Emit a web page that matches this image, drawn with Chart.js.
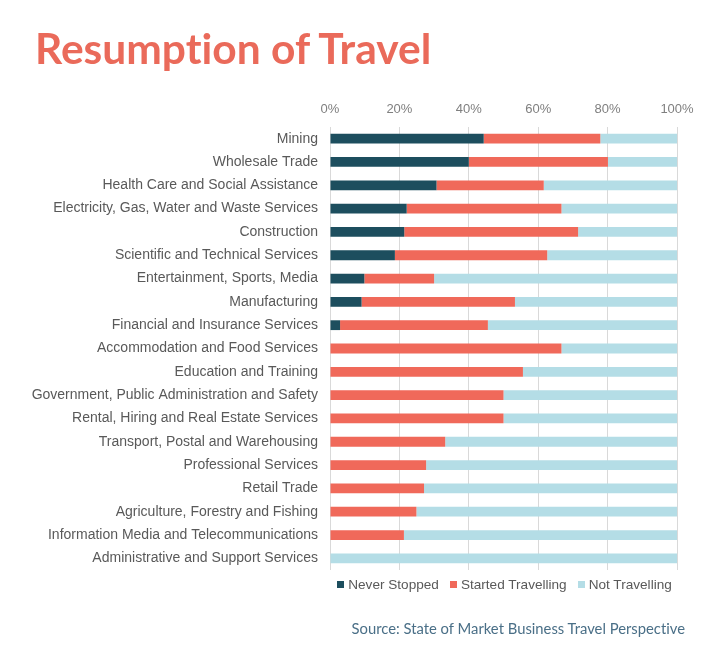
<!DOCTYPE html>
<html>
<head>
<meta charset="utf-8">
<script src="https://cdn.jsdelivr.net/npm/chart.js@4"></script>
<style>
    html, body { margin: 0; padding: 0; background: #fff; }
    #wrap { position: relative; width: 720px; height: 665px; overflow: hidden; }
    #title {
        position: absolute; left: 35px; top: 20px; margin: 0;
        font-family: Lato, sans-serif; font-weight: 700; font-size: 42.5px;
        font-variant-ligatures: none;
        color: #ea6a5a; line-height: 56px; white-space: nowrap;
    }
    #chartBox { position: absolute; left: 0; top: 0; width: 720px; height: 665px; }
    #legend {
        position: absolute; left: 331px; width: 347px; top: 577px;
        display: flex; justify-content: center; gap: 11px;
        font-family: "Liberation Sans", Arial, sans-serif; font-size: 13.6px; color: #595959;
    }
    #legend span.item { display: flex; align-items: center; white-space: nowrap; }
    #legend span.box { display: inline-block; width: 7px; height: 7px; margin-right: 4px; }
    #source {
        position: absolute; right: 35px; top: 619px;
        font-family: Lato, sans-serif; font-size: 14.8px; color: #4a6f87; white-space: nowrap;
        font-variant-ligatures: none;
    }
</style>
</head>
<body>
<div id="wrap">
    <div id="chartBox"><canvas id="travelChart"></canvas></div>
    <h1 id="title">Resumption of Travel</h1>
    <div id="legend"></div>
    <div id="source">Source: State of Market Business Travel Perspective</div>
</div>
<script>
const industries = [
    'Mining',
    'Wholesale Trade',
    'Health Care and Social Assistance',
    'Electricity, Gas, Water and Waste Services',
    'Construction',
    'Scientific and Technical Services',
    'Entertainment, Sports, Media',
    'Manufacturing',
    'Financial and Insurance Services',
    'Accommodation and Food Services',
    'Education and Training',
    'Government, Public Administration and Safety',
    'Rental, Hiring and Real Estate Services',
    'Transport, Postal and Warehousing',
    'Professional Services',
    'Retail Trade',
    'Agriculture, Forestry and Fishing',
    'Information Media and Telecommunications',
    'Administrative and Support Services'
];

// percent of respondents per industry
const neverStopped      = [44.3, 40.0, 30.7, 22.1, 21.4, 18.7, 9.9, 9.1, 2.9, 0, 0, 0, 0, 0, 0, 0, 0, 0, 0];
const startedTravelling = [33.6, 40.1, 30.9, 44.6, 50.1, 43.9, 20.1, 44.2, 42.6, 66.7, 55.6, 50.0, 50.0, 33.2, 27.7, 27.1, 24.9, 21.3, 0];
const notTravelling     = [22.1, 19.9, 38.4, 33.3, 28.5, 37.4, 70.0, 46.7, 54.5, 33.3, 44.4, 50.0, 50.0, 66.8, 72.3, 72.9, 75.1, 78.7, 100];

const xTicks = [0, 20, 40, 60, 80, 100];

const seriesColors = {
    never: '#1d4e5e',
    started: '#f0695a',
    not: '#b4dde6'
};

const ctx = document.getElementById('travelChart').getContext('2d');

const travelChart = new Chart(ctx, {
    type: 'bar',
    data: {
        labels: industries,
        datasets: [
            { label: 'Never Stopped', data: neverStopped, backgroundColor: seriesColors.never },
            { label: 'Started Travelling', data: startedTravelling, backgroundColor: seriesColors.started },
            { label: 'Not Travelling', data: notTravelling, backgroundColor: seriesColors.not }
        ]
    },
    options: {
        indexAxis: 'y',
        responsive: true,
        maintainAspectRatio: false,
        animation: false,
        layout: { padding: { left: 0, right: 43, top: 0, bottom: 95 } },
        datasets: {
            bar: { categoryPercentage: 1, barPercentage: 0.42, borderWidth: 0 }
        },
        plugins: {
            legend: { display: false }, // HTML legend below
            tooltip: { enabled: false }
        },
        scales: {
            x: {
                position: 'top',
                stacked: true,
                min: 0,
                max: 100,
                afterFit: function (scale) { scale.height = 127; },
                afterBuildTicks: function (scale) {
                    scale.ticks = xTicks.map(v => ({ value: v }));
                },
                grid: { color: '#d9d9d9', lineWidth: 1, drawTicks: false },
                border: { display: false },
                ticks: {
                    padding: 10,
                    color: '#7f7f7f',
                    font: { family: '"Liberation Sans", Arial, sans-serif', size: 13 },
                    callback: function (value) { return value + '%'; }
                }
            },
            y: {
                stacked: true,
                afterFit: function (scale) { scale.width = 330; },
                grid: { display: false, drawTicks: false },
                border: { display: false },
                ticks: {
                    padding: 12,
                    color: '#595959',
                    autoSkip: false,
                    font: { family: '"Liberation Sans", Arial, sans-serif', size: 14 }
                }
            }
        }
    }
});

// Build legend from the datasets
const legendEl = document.getElementById('legend');
travelChart.data.datasets.forEach(ds => {
    const item = document.createElement('span');
    item.className = 'item';
    item.innerHTML = `<span class="box" style="background:${ds.backgroundColor}"></span>${ds.label}`;
    legendEl.appendChild(item);
});
</script>
</body>
</html>
